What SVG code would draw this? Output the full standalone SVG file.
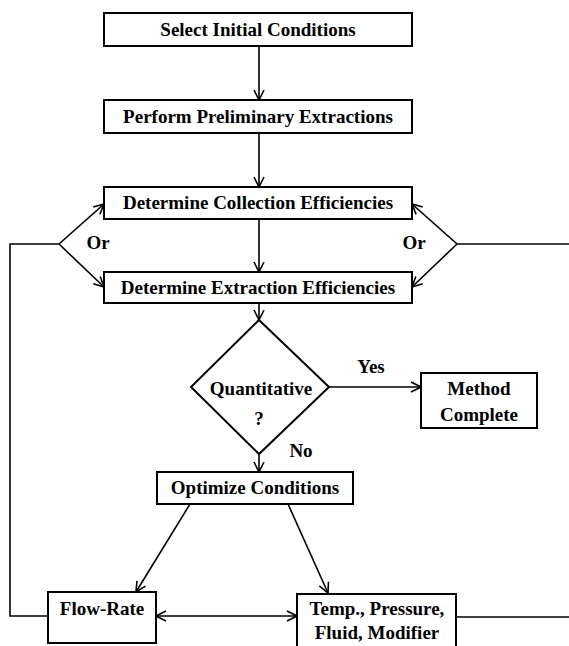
<svg xmlns="http://www.w3.org/2000/svg" width="569" height="646" viewBox="0 0 569 646">
<defs>
<style>
.box{fill:#fff;stroke:#000;stroke-width:2}
.ln{fill:none;stroke:#000;stroke-width:1.6}
.t{font-family:"Liberation Serif","Times New Roman",serif;font-weight:bold;font-size:19px;text-anchor:middle;fill:#000}
</style>
<marker id="arr" viewBox="0 0 12 12" refX="11" refY="6" markerWidth="12" markerHeight="12" orient="auto-start-reverse" markerUnits="userSpaceOnUse">
<path d="M1,1 L11,6 L1,11" fill="none" stroke="#000" stroke-width="1.6"/>
</marker>
</defs>
<rect width="569" height="646" fill="#fff"/>
<g id="connectors">
<line class="ln" x1="259" y1="46" x2="259" y2="100" marker-end="url(#arr)"/>
<line class="ln" x1="259" y1="133" x2="259" y2="187" marker-end="url(#arr)"/>
<line class="ln" x1="259" y1="219" x2="259" y2="272" marker-end="url(#arr)"/>
<line class="ln" x1="259" y1="303" x2="259" y2="320" marker-end="url(#arr)"/>
<line class="ln" x1="259" y1="454" x2="259" y2="472" marker-end="url(#arr)"/>
<line class="ln" x1="329" y1="387" x2="421" y2="387" marker-end="url(#arr)"/>
<line class="ln" x1="190" y1="504" x2="136" y2="592" marker-end="url(#arr)"/>
<line class="ln" x1="288" y1="504" x2="328" y2="593" marker-end="url(#arr)"/>
<line class="ln" x1="156" y1="616" x2="297" y2="616" marker-start="url(#arr)" marker-end="url(#arr)"/>
<polyline class="ln" points="48,616 10,616 10,244 59,244"/>
<line class="ln" x1="59" y1="244" x2="104" y2="204" marker-end="url(#arr)"/>
<line class="ln" x1="59" y1="244" x2="104" y2="287" marker-end="url(#arr)"/>
<line class="ln" x1="569" y1="244" x2="457" y2="244"/>
<line class="ln" x1="457" y1="244" x2="412" y2="204" marker-end="url(#arr)"/>
<line class="ln" x1="457" y1="244" x2="412" y2="287" marker-end="url(#arr)"/>
<line class="ln" x1="456" y1="617" x2="569" y2="617"/>
<text class="t" x="98" y="249">Or</text>
<text class="t" x="414" y="249">Or</text>
<text class="t" x="371" y="373">Yes</text>
<text class="t" x="301" y="457">No</text>
</g>
<g id="n1"><rect class="box" x="104" y="13" width="308" height="33"/><text class="t" x="258" y="36">Select Initial Conditions</text></g>
<g id="n2"><rect class="box" x="104" y="100" width="308" height="33"/><text class="t" x="258" y="123">Perform Preliminary Extractions</text></g>
<g id="n3"><rect class="box" x="104" y="187" width="308" height="32"/><text class="t" x="258" y="209">Determine Collection Efficiencies</text></g>
<g id="n4"><rect class="box" x="104" y="272" width="308" height="31"/><text class="t" x="258" y="294">Determine Extraction Efficiencies</text></g>
<g id="n5"><polygon class="box" points="259,320 329,387 259,454 191,387"/><text class="t" x="261" y="395">Quantitative</text><text class="t" x="259" y="425">?</text></g>
<g id="n6"><rect class="box" x="421" y="373" width="116" height="55"/><text class="t" x="479" y="395">Method</text><text class="t" x="479" y="421">Complete</text></g>
<g id="n7"><rect class="box" x="157" y="472" width="196" height="32"/><text class="t" x="255" y="494">Optimize Conditions</text></g>
<g id="n8"><rect class="box" x="48" y="592" width="108" height="51"/><text class="t" x="102" y="615">Flow-Rate</text></g>
<g id="n9"><rect class="box" x="297" y="594" width="159" height="60"/><text class="t" x="377" y="615">Temp., Pressure,</text><text class="t" x="377" y="639">Fluid, Modifier</text></g>
</svg>
